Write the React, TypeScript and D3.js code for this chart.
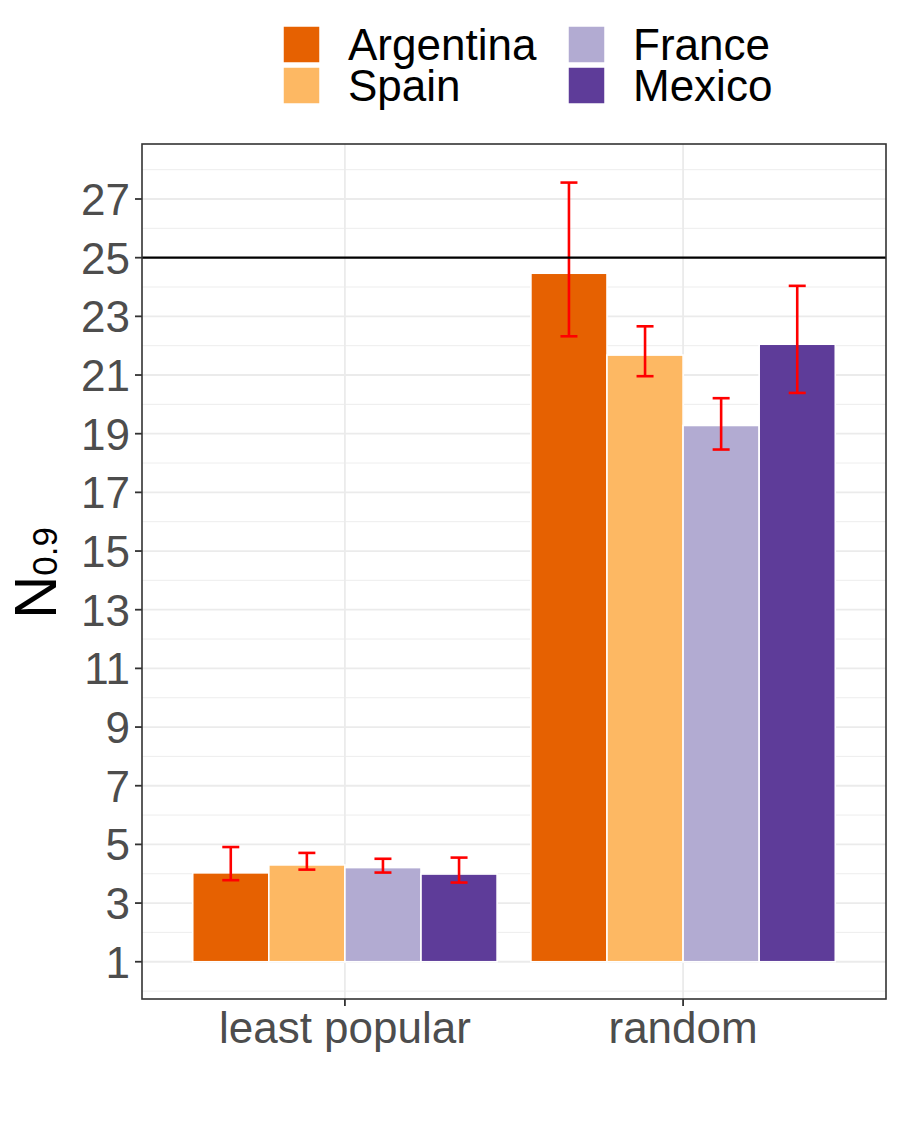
import React from "react";
import * as d3 from "d3";

const categories = ["least popular", "random"];
const countries = ["Argentina", "Spain", "France", "Mexico"];
const colors = ["#e66101", "#fdb863", "#b2abd2", "#5e3c99"];
// values[country][category]
const argentina = [4.03, 24.47];
const spain = [4.3, 21.68];
const france = [4.21, 19.28];
const mexico = [3.99, 22.05];
const argentinaLo = [3.78, 22.32];
const argentinaHi = [4.91, 27.56];
const spainLo = [4.14, 20.96];
const spainHi = [4.71, 22.66];
const franceLo = [4.04, 18.46];
const franceHi = [4.51, 20.21];
const mexicoLo = [3.7, 20.39];
const mexicoHi = [4.55, 24.04];
const yTicks = [1, 3, 5, 7, 9, 11, 13, 15, 17, 19, 21, 23, 25, 27];
const yMinor = [0, 2, 4, 6, 8, 10, 12, 14, 16, 18, 20, 22, 24, 26, 28];
const baseValue = 1;
const refLine = 25;

const values = [argentina, spain, france, mexico];
const lows = [argentinaLo, spainLo, franceLo, mexicoLo];
const highs = [argentinaHi, spainHi, franceHi, mexicoHi];

export default function App() {
  const W = 900, H = 1123;
  const left = 142, right = 886, top = 144, bottom = 999;
  const y = d3.scaleLinear().domain([-0.27, 28.875]).range([bottom, top]);
  const xc = d3.scaleLinear().domain([0.4, 2.6]).range([left, right]);
  const unit = xc(2) - xc(1);
  const dodge = 0.9 * unit;
  const bw = dodge / countries.length;
  const font = "'Liberation Sans', Arial, Helvetica, sans-serif";
  const fs = 44;

  return (
    <svg width={W} height={H} style={{ display: "block", position: "absolute", left: 0, top: 0 }} fontFamily={font}>
      <rect x={0} y={0} width={W} height={H} fill="white" />
      {/* grid */}
      {yMinor.map((v) => (
        <line key={"mn" + v} x1={left} x2={right} y1={y(v)} y2={y(v)} stroke="#ebebeb" strokeWidth={0.9} />
      ))}
      {yTicks.map((v) => (
        <line key={"mj" + v} x1={left} x2={right} y1={y(v)} y2={y(v)} stroke="#ebebeb" strokeWidth={1.8} />
      ))}
      {categories.map((c, i) => (
        <line key={"vx" + c} x1={xc(i + 1)} x2={xc(i + 1)} y1={top} y2={bottom} stroke="#ebebeb" strokeWidth={1.8} />
      ))}
      {/* bars */}
      {categories.map((c, i) =>
        countries.map((k, j) => {
          const x0 = xc(i + 1) - dodge / 2 + j * bw;
          const v = values[j][i];
          return (
            <rect
              key={c + k}
              x={x0}
              y={y(v)}
              width={bw}
              height={y(baseValue) - y(v)}
              fill={colors[j]}
              stroke="white"
              strokeWidth={1.6}
            />
          );
        })
      )}
      {/* error bars */}
      {categories.map((c, i) =>
        countries.map((k, j) => {
          const cx = xc(i + 1) - dodge / 2 + (j + 0.5) * bw;
          const lo = y(lows[j][i]);
          const hi = y(highs[j][i]);
          const hw = 8.5;
          return (
            <g key={"e" + c + k} stroke="#ff0000" strokeWidth={2.6}>
              <line x1={cx} x2={cx} y1={lo} y2={hi} />
              <line x1={cx - hw} x2={cx + hw} y1={lo} y2={lo} />
              <line x1={cx - hw} x2={cx + hw} y1={hi} y2={hi} />
            </g>
          );
        })
      )}
      {/* reference line */}
      <line x1={left} x2={right} y1={y(refLine)} y2={y(refLine)} stroke="black" strokeWidth={2.2} />
      {/* panel border */}
      <rect x={left} y={top} width={right - left} height={bottom - top} fill="none" stroke="#333333" strokeWidth={1.6} />
      {/* y axis */}
      {yTicks.map((v) => (
        <g key={"yt" + v}>
          <line x1={left - 7} x2={left} y1={y(v)} y2={y(v)} stroke="#333333" strokeWidth={1.8} />
          <text x={left - 12} y={y(v)} dy="0.36em" textAnchor="end" fontSize={fs} fill="#4d4d4d">
            {v}
          </text>
        </g>
      ))}
      {/* x axis */}
      {categories.map((c, i) => (
        <g key={"xt" + c}>
          <line x1={xc(i + 1)} x2={xc(i + 1)} y1={bottom} y2={bottom + 7} stroke="#333333" strokeWidth={1.8} />
          <text x={xc(i + 1)} y={1043} textAnchor="middle" fontSize={fs} fill="#4d4d4d">
            {c}
          </text>
        </g>
      ))}
      {/* y title */}
      <text transform={`translate(56, 573) rotate(-90)`} textAnchor="middle" fontSize={60} fill="black">
        N<tspan fontSize={35} dy={1}>0.9</tspan>
      </text>
      {/* legend */}
      {countries.map((k, j) => {
        const col = Math.floor(j / 2);
        const row = j % 2;
        const kx = col === 0 ? 283 : 568;
        const ky = 26 + row * 41;
        return (
          <g key={"lg" + k}>
            <rect x={kx} y={ky} width={37} height={37} fill={colors[j]} stroke="white" strokeWidth={1.5} />
            <text x={kx + 65} y={ky + 34} fontSize={fs} fill="black">
              {k}
            </text>
          </g>
        );
      })}
    </svg>
  );
}
